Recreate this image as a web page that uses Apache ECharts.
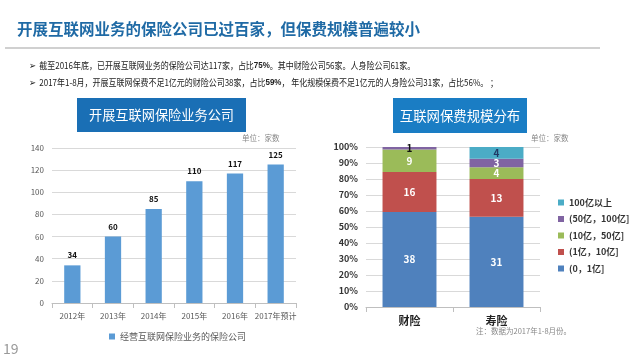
<!DOCTYPE html>
<html><head><meta charset="utf-8">
<script src="https://cdn.jsdelivr.net/npm/echarts@6/dist/echarts.min.js"></script>
<style>html,body{margin:0;padding:0;background:#fff}#c{width:640px;height:361px}</style>
</head><body><div id="c"></div>
<script>
// Left chart data
const years = ['2012年','2013年','2014年','2015年','2016年','2017年预计'];
const companies = [34, 60, 85, 110, 117, 125];
const leftSeriesName = '经营互联网保险业务的保险公司';
const leftTicks = [0, 20, 40, 60, 80, 100, 120, 140];

// Right chart data (counts)
const types = ['财险', '寿险'];
const bandNames = ['(0，1亿]', '(1亿，10亿]', '(10亿，50亿]', '(50亿，100亿]', '100亿以上'];
const band0to1 = [38, 31];
const band1to10 = [16, 13];
const band10to50 = [9, 4];
const band50to100 = [1, 3];
const band100plus = [0, 4];
const bandColors = ['#4f81bd', '#c0504d', '#9bbb59', '#8064a2', '#4bacc6'];

const bands = [band0to1, band1to10, band10to50, band50to100, band100plus];
const totals = types.map((_, i) => bands.reduce((s, b) => s + b[i], 0));

const FONT = '"Noto Sans CJK SC", "Microsoft YaHei", sans-serif';

const chart = echarts.init(document.getElementById('c'));

const rightSeries = bands.map((b, k) => ({
  name: bandNames[k],
  type: 'bar',
  stack: 'p',
  xAxisIndex: 1, yAxisIndex: 1,
  barWidth: '62%',
  itemStyle: { color: bandColors[k] },
  data: b.map((v, i) => ({
    value: v / totals[i] * 100,
    count: v,
    label: { color: (k === 3 && i === 0) ? '#111' : (k === 4 ? '#1f3864' : '#fff') }
  })),
  label: {
    show: true, position: 'inside', fontFamily: FONT, fontWeight: 'bold', fontSize: 10,
    formatter: p => p.data.count > 0 ? String(p.data.count) : ''
  }
}));

chart.setOption({
  animation: false,
  textStyle: { fontFamily: FONT },
  grid: [
    { left: 52, right: 344, top: 148, bottom: 58 },
    { left: 366, right: 100, top: 147, bottom: 54 }
  ],
  xAxis: [
    { type: 'category', gridIndex: 0, data: years,
      axisLine: { lineStyle: { color: '#bfbfbf' } }, axisTick: { show: true, lineStyle: { color: '#bfbfbf' } },
      axisLabel: { color: '#595959', fontSize: 8, margin: 9, interval: 0 } },
    { type: 'category', gridIndex: 1, data: types,
      axisLine: { lineStyle: { color: '#bfbfbf' } }, axisTick: { show: true, lineStyle: { color: '#bfbfbf' } },
      axisLabel: { color: '#222', fontSize: 11, fontWeight: 'bold', margin: 8, fontFamily: '"Noto Sans CJK SC", serif' } }
  ],
  yAxis: [
    { type: 'value', gridIndex: 0, min: leftTicks[0], max: leftTicks[leftTicks.length - 1], interval: 20,
      axisLine: { show: false }, axisTick: { show: false },
      splitLine: { lineStyle: { color: '#d9d9d9' } },
      axisLabel: { color: '#595959', fontSize: 8, margin: 8 } },
    { type: 'value', gridIndex: 1, min: 0, max: 100, interval: 10,
      axisLine: { show: false }, axisTick: { show: false },
      splitLine: { lineStyle: { color: '#d9d9d9' } },
      axisLabel: { color: '#333', fontSize: 9, fontWeight: 'bold', margin: 8, formatter: '{value}%' } }
  ],
  legend: [
    { data: [leftSeriesName], left: 104, top: 327, itemWidth: 6, itemHeight: 6, itemGap: 4,
      textStyle: { fontSize: 9, color: '#595959' }, icon: 'rect' },
    { data: bandNames.slice().reverse(), orient: 'vertical', left: 553, top: 193, itemWidth: 6, itemHeight: 6, itemGap: 7.5,
      textStyle: { fontSize: 9, color: '#333', fontWeight: 'bold' }, icon: 'rect' }
  ],
  series: [
    { name: leftSeriesName, type: 'bar', xAxisIndex: 0, yAxisIndex: 0, data: companies,
      barWidth: '40%', itemStyle: { color: '#5b9bd5' },
      label: { show: true, position: 'top', color: '#111', fontWeight: 'bold', fontSize: 8, distance: 6 } },
    ...rightSeries
  ],
  graphic: [
    { type: 'text', left: 17, top: 21, style: { text: '开展互联网业务的保险公司已过百家，但保费规模普遍较小', font: 'bold 15.5px ' + FONT, fill: '#1f6aa5' } },
    { type: 'line', shape: { x1: 5, y1: 48, x2: 600, y2: 48 }, style: { stroke: '#d0d0d0', lineWidth: 2 } },
    { type: 'text', x: 29, y: 60, scaleX: 0.84, style: {
      rich: { b: { fontWeight: 'bold', fontSize: 9.5, fill: '#222' } },
      text: '➢  截至2016年底，已开展互联网业务的保险公司达117家，占比{b|75%}。其中财险公司56家。人身险公司61家。',
      font: '9.5px ' + FONT, fill: '#222' } },
    { type: 'text', x: 29, y: 77, scaleX: 0.84, style: {
      rich: { b: { fontWeight: 'bold', fontSize: 9.5, fill: '#222' } },
      text: '➢  2017年1-8月，开展互联网保费不足1亿元的财险公司38家，占比{b|59%}， 年化规模保费不足1亿元的人身险公司31家，占比56%。 ；',
      font: '9.5px ' + FONT, fill: '#222' } },
    { type: 'rect', shape: { x: 77, y: 98, width: 169, height: 34 }, style: { fill: '#1a6fb5' } },
    { type: 'text', x: 161.5, y: 115, style: { text: '开展互联网保险业务公司', font: '13.2px ' + FONT, fill: '#fff', align: 'center', verticalAlign: 'middle' } },
    { type: 'rect', shape: { x: 393, y: 98, width: 134, height: 35 }, style: { fill: '#1a7dc4' } },
    { type: 'text', x: 460, y: 115.5, style: { text: '互联网保费规模分布', font: '13.4px ' + FONT, fill: '#fff', align: 'center', verticalAlign: 'middle' } },
    { type: 'text', left: 242, top: 134, style: { text: '单位：家数', font: '7.5px ' + FONT, fill: '#888' } },
    { type: 'text', left: 531, top: 134, style: { text: '单位：家数', font: '7.5px ' + FONT, fill: '#888' } },
    { type: 'text', left: 476, top: 327, style: { text: '注：数据为2017年1-8月份。', font: '7.5px ' + FONT, fill: '#888' } },
    { type: 'text', left: 3, top: 342, style: { text: '19', font: '14px ' + FONT, fill: '#999' } }
  ]
});
</script></body></html>
